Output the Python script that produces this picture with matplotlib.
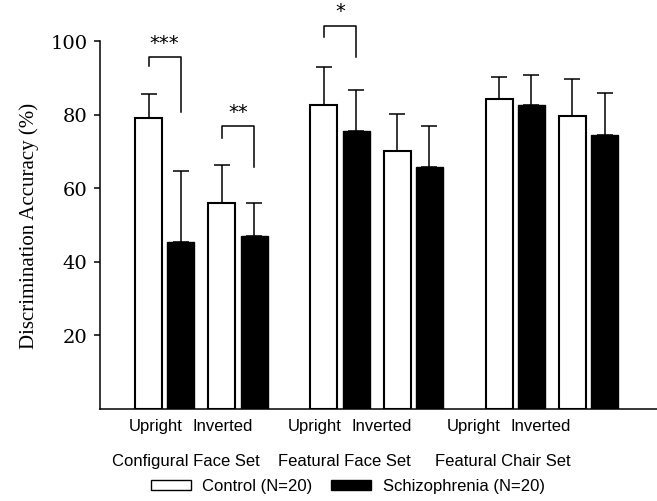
import numpy as np
import matplotlib
matplotlib.use('Agg')
import matplotlib.pyplot as plt
from matplotlib.patches import Patch
from matplotlib.transforms import blended_transform_factory


sets = ['Configural Face Set', 'Featural Face Set', 'Featural Chair Set']
conditions = ['Upright', 'Inverted']

control_mean = [79.0, 55.8, 82.7, 70.1, 84.3, 79.6]
control_sd = [6.5, 10.5, 10.2, 10.0, 5.8, 10.0]
schizo_mean = [45.2, 46.9, 75.4, 65.8, 82.7, 74.3]
schizo_sd = [19.5, 8.9, 11.2, 11.0, 8.1, 11.6]

# significance brackets: (bar index, stars, top, left leg end, right leg end)
sig_bars = [0, 1, 2]
sig_stars = ['***', '**', '*']
sig_top = [95.6, 76.8, 104.2]
sig_left_end = [93.3, 73.5, 101.0]
sig_right_end = [80.6, 65.6, 95.6]

legend_labels = ['Control (N=20)', 'Schizophrenia (N=20)']

# layout (x in pixel-like units, axis spans 100..657)
first_x = 148.5
group_step = 175.3
cond_step = 73.2
pair_off = 32.3
bar_w = 27
label_first = 156
label_step = 158.8
label_gap = 67

fig = plt.figure(figsize=(6.57, 5.02), dpi=100)
ax = fig.add_axes([100 / 657, 92.5 / 502, 557 / 657, 367.5 / 502])

xc = np.array([first_x + g * group_step + c * cond_step for g in range(3) for c in range(2)])
xs = xc + pair_off

ax.bar(xc, control_mean, width=bar_w, color='white', edgecolor='black', linewidth=1.5, zorder=2)
ax.bar(xs, schizo_mean, width=bar_w, color='black', edgecolor='black', linewidth=1.0, zorder=2)

zeros = np.zeros(6)
ax.errorbar(xc, control_mean, yerr=[zeros, control_sd], fmt='none', ecolor='black',
            elinewidth=1.1, capsize=6, capthick=1.1, zorder=1)
ax.errorbar(xs, schizo_mean, yerr=[zeros, schizo_sd], fmt='none', ecolor='black',
            elinewidth=1.1, capsize=6, capthick=1.1, zorder=1)

for i, stars, top, le, re in zip(sig_bars, sig_stars, sig_top, sig_left_end, sig_right_end):
	x0, x1 = xc[i], xs[i]
	ax.plot([x0, x0, x1, x1], [le, top, top, re], color='black', lw=1.1, clip_on=False)
	ax.text((x0 + x1) / 2, top + 1.4, stars, ha='center', va='bottom', fontsize=14,
	        family='DejaVu Sans', clip_on=False)

ax.set_xlim(100, 657)
ax.set_ylim(0, 100)
ax.set_yticks([20, 40, 60, 80, 100])
ax.set_xticks([])
ax.tick_params(axis='y', direction='out', length=4.5, width=1.1, pad=4.5)
for lab in ax.get_yticklabels():
	lab.set_family('DejaVu Serif')
	lab.set_fontsize(14)
for side in ['top', 'right']:
	ax.spines[side].set_visible(False)
for side in ['left', 'bottom']:
	ax.spines[side].set_linewidth(1.1)

ax.set_ylabel('Discrimination Accuracy (%)', family='Liberation Serif', fontsize=15, labelpad=8)

trans = blended_transform_factory(ax.transData, ax.transAxes)
for g, name in enumerate(sets):
	for c, cond in enumerate(conditions):
		ax.text(label_first + g * label_step + c * label_gap, -0.047, cond, transform=trans,
		        ha='center', va='center', family='Liberation Sans', fontsize=12)
	ax.text(label_first + g * label_step + label_gap / 2 - 4, -0.142, name, transform=trans,
	        ha='center', va='center', family='Liberation Sans', fontsize=12)

handles = [Patch(facecolor='white', edgecolor='black', linewidth=1.0),
           Patch(facecolor='black', edgecolor='black')]
fig.legend(handles, legend_labels, ncol=2, loc='center', bbox_to_anchor=(0.529, 0.030),
           frameon=False, prop={'family': 'Liberation Sans', 'size': 12},
           handlelength=2.4, handleheight=0.55, handletextpad=0.7, columnspacing=1.1,
           borderpad=0, borderaxespad=0)

fig.savefig('out.png', dpi=100)
